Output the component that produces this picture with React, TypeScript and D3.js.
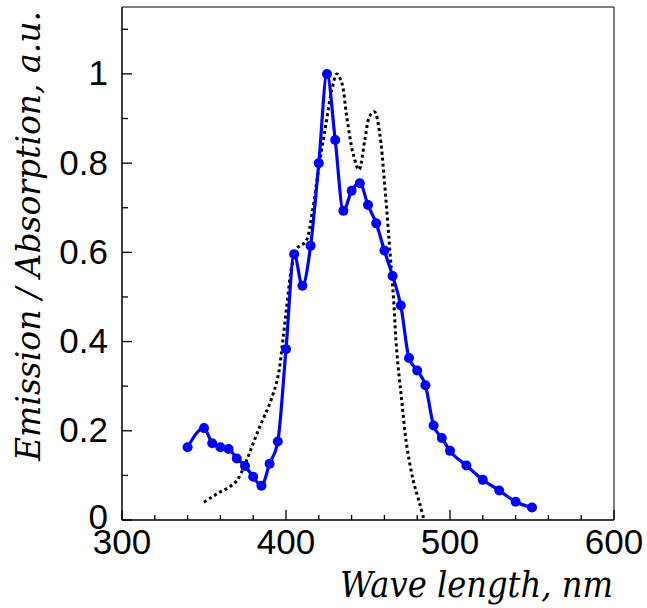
import React from "react";
import * as d3 from "d3";

// emission spectrum (blue, with markers)
const emWave = [340, 350, 355, 360, 365, 370, 375, 380, 385, 390, 395, 400, 405, 410, 415, 420, 425, 430, 435, 440, 445, 450, 455, 460, 465, 470, 475, 480, 485, 490, 495, 500, 510, 520, 530, 540, 550];
const emValue = [0.163, 0.206, 0.172, 0.163, 0.159, 0.138, 0.121, 0.097, 0.077, 0.126, 0.176, 0.383, 0.596, 0.525, 0.615, 0.8, 1.0, 0.852, 0.693, 0.738, 0.755, 0.706, 0.665, 0.604, 0.547, 0.481, 0.363, 0.335, 0.302, 0.212, 0.184, 0.155, 0.122, 0.09, 0.066, 0.041, 0.028];

// absorption spectrum (dotted black)
const absWave = [350, 355, 360, 365, 370, 375, 380, 385, 390, 395, 398, 401, 403.5, 407, 412, 416, 420, 424, 428, 431, 434, 437, 441, 444.5, 448, 451, 454, 457, 460, 463, 465.5, 467.5, 470.5, 473.5, 477.5, 481.5, 484];
const absValue = [0.04, 0.052, 0.063, 0.073, 0.088, 0.125, 0.172, 0.218, 0.26, 0.32, 0.4, 0.497, 0.568, 0.61, 0.624, 0.69, 0.79, 0.88, 0.965, 1.0, 0.98, 0.905, 0.82, 0.785, 0.85, 0.905, 0.915, 0.87, 0.76, 0.62, 0.5, 0.38, 0.27, 0.17, 0.09, 0.037, 0.003];

const xMajor = [300, 400, 500, 600];
const yMajor = [0, 0.2, 0.4, 0.6, 0.8, 1];

export default function App() {
  const width = 647;
  const height = 608;
  const left = 122, right = 614, top = 7, bottom = 520;

  const x = d3.scaleLinear().domain([300, 600]).range([left, right]);
  const y = d3.scaleLinear().domain([0, 1.15]).range([bottom, top]);

  const xMinor = d3.range(300, 601, 20).filter(v => v % 100 !== 0);
  const yMinor = d3.range(0.1, 1.15, 0.2);

  const emPts: [number, number][] = emWave.map((w, i) => [w, emValue[i]]);
  const absPts: [number, number][] = absWave.map((w, i) => [w, absValue[i]]);

  const emLine = d3
    .line<[number, number]>()
    .x(d => x(d[0]))
    .y(d => y(d[1]))
    .curve(d3.curveMonotoneX);
  const absLine = d3
    .line<[number, number]>()
    .x(d => x(d[0]))
    .y(d => y(d[1]))
    .curve(d3.curveCatmullRom);

  const sans = "Liberation Sans, Arial, Helvetica, sans-serif";
  const serif = "DejaVu Serif, serif";

  return (
    <svg width={width} height={height} style={{ position: "absolute", left: 0, top: 0, background: "#fff" }}>
      {/* frame */}
      <line x1={left} x2={right} y1={top} y2={top} stroke="#000" strokeWidth={1} />
      <line x1={right} x2={right} y1={top} y2={bottom} stroke="#000" strokeWidth={1} />
      <line x1={left} x2={left} y1={top} y2={bottom} stroke="#000" strokeWidth={1.5} />
      <line x1={left} x2={right} y1={bottom} y2={bottom} stroke="#000" strokeWidth={1.5} />

      {/* x ticks */}
      {xMajor.map(v => (
        <g key={"xM" + v}>
          <line x1={x(v)} x2={x(v)} y1={bottom} y2={bottom - 10} stroke="#000" strokeWidth={1.3} />
          <text x={x(v)} y={bottom + 34} textAnchor="middle" fontFamily={sans} fontSize={35}>
            {v}
          </text>
        </g>
      ))}
      {xMinor.map(v => (
        <line key={"xm" + v} x1={x(v)} x2={x(v)} y1={bottom} y2={bottom - 5} stroke="#000" strokeWidth={1.3} />
      ))}

      {/* y ticks */}
      {yMajor.map(v => (
        <g key={"yM" + v}>
          <line x1={left} x2={left + 10} y1={y(v)} y2={y(v)} stroke="#000" strokeWidth={1.3} />
          <text x={108} y={v === 0 ? y(v) - 3 : y(v)} dy="0.33em" textAnchor="end" fontFamily={sans} fontSize={35}>
            {d3.format("~g")(v)}
          </text>
        </g>
      ))}
      {yMinor.map(v => (
        <line key={"ym" + v} x1={left} x2={left + 6} y1={y(v)} y2={y(v)} stroke="#000" strokeWidth={1.3} />
      ))}

      {/* absorption */}
      <path d={absLine(absPts) || ""} fill="none" stroke="#000" strokeWidth={3} strokeDasharray="3 3" />

      {/* emission */}
      <path d={emLine(emPts) || ""} fill="none" stroke="#0000ff" strokeWidth={3.2} />
      {emPts.map((d, i) => (
        <circle key={"p" + i} cx={x(d[0])} cy={y(d[1])} r={5} fill="#0000ff" />
      ))}

      {/* axis titles */}
      <text
        x={340}
        y={597}
        fontFamily={serif}
        fontStyle="italic"
        fontSize={35}
        textLength={273}
        lengthAdjust="spacingAndGlyphs"
      >
        Wave length, nm
      </text>
      <text
        transform={`translate(40, 461) rotate(-90)`}
        fontFamily={serif}
        fontStyle="italic"
        fontSize={34}
        textLength={450}
        lengthAdjust="spacingAndGlyphs"
      >
        Emission / Absorption, a.u.
      </text>
    </svg>
  );
}
